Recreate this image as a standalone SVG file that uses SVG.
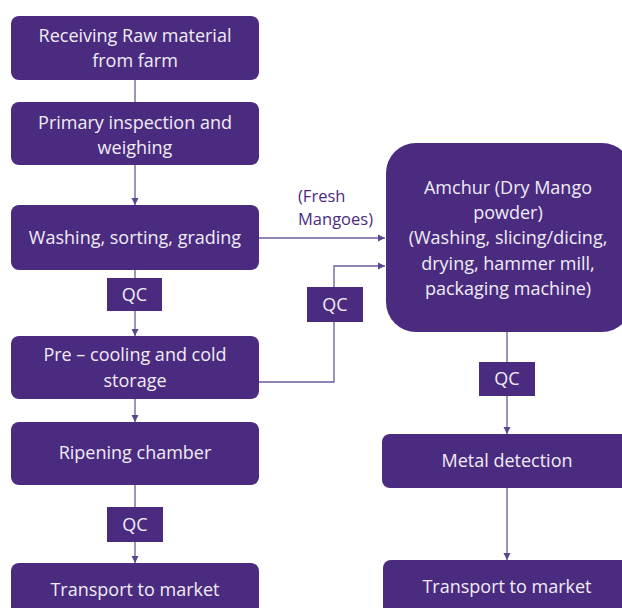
<svg xmlns="http://www.w3.org/2000/svg" width="622" height="608" viewBox="0 0 622 608">
<defs>
<marker id="ah" markerWidth="8" markerHeight="8" refX="7" refY="4" orient="auto" markerUnits="userSpaceOnUse">
<path d="M0,0.5 L7,4 L0,7.5 Z" fill="#5a4690"/>
</marker>
</defs>
<style>
.n{fill:#4b2b7f}
.t{fill:#f0edf6;font-family:"Open Sans",Lato,sans-serif;font-size:18px;text-anchor:middle}
.c{stroke:#6b5a9c;stroke-width:1.3;fill:none}
.lbl{fill:#4b2b7f;font-family:"Open Sans",Lato,sans-serif;font-size:16.5px}
</style>
<rect width="622" height="608" fill="#ffffff"/>
<g id="connectors">
<line class="c" x1="135" y1="80" x2="135" y2="102"/>
<line class="c" x1="135" y1="165" x2="135" y2="205" marker-end="url(#ah)"/>
<line class="c" x1="135" y1="270" x2="135" y2="336" marker-end="url(#ah)"/>
<line class="c" x1="135" y1="399" x2="135" y2="422" marker-end="url(#ah)"/>
<line class="c" x1="135" y1="485" x2="135" y2="563" marker-end="url(#ah)"/>
<line class="c" x1="259" y1="238" x2="385" y2="238" marker-end="url(#ah)"/>
<polyline class="c" points="259,382 334,382 334,266 385,266" marker-end="url(#ah)"/>
<line class="c" x1="507" y1="332" x2="507" y2="434" marker-end="url(#ah)"/>
<line class="c" x1="507" y1="488" x2="507" y2="560" marker-end="url(#ah)"/>
<text class="lbl" x="298" y="202">(Fresh</text>
<text class="lbl" x="298" y="225">Mangoes)</text>
</g>
<g id="n1"><rect class="n" x="11" y="16" width="248" height="64" rx="8"/>
<text class="t" x="135" y="42">Receiving Raw material</text><text class="t" x="135" y="67">from farm</text></g>
<g id="n2"><rect class="n" x="11" y="102" width="248" height="63" rx="8"/>
<text class="t" x="135" y="129">Primary inspection and</text><text class="t" x="135" y="154">weighing</text></g>
<g id="n3"><rect class="n" x="11" y="205" width="248" height="65" rx="8"/>
<text class="t" x="135" y="244">Washing, sorting, grading</text></g>
<g id="qc1"><rect class="n" x="107" y="278" width="55" height="33"/>
<text class="t" x="134.5" y="301">QC</text></g>
<g id="n4"><rect class="n" x="11" y="336" width="248" height="63" rx="8"/>
<text class="t" x="135" y="361">Pre – cooling and cold</text><text class="t" x="135" y="387">storage</text></g>
<g id="n5"><rect class="n" x="11" y="422" width="248" height="63" rx="8"/>
<text class="t" x="135" y="459">Ripening chamber</text></g>
<g id="qc2"><rect class="n" x="107" y="507" width="56" height="35"/>
<text class="t" x="135" y="531">QC</text></g>
<g id="n6"><rect class="n" x="11" y="563" width="248" height="60" rx="8"/>
<text class="t" x="135" y="596">Transport to market</text></g>
<g id="qc3"><rect class="n" x="307" y="287" width="56" height="35"/>
<text class="t" x="335" y="311">QC</text></g>
<g id="n7"><rect class="n" x="386" y="143" width="246" height="189" rx="30"/>
<text class="t" x="508" y="194">Amchur (Dry Mango</text>
<text class="t" x="508" y="219">powder)</text>
<text class="t" x="508" y="244">(Washing, slicing/dicing,</text>
<text class="t" x="508" y="270">drying, hammer mill,</text>
<text class="t" x="508" y="295">packaging machine)</text></g>
<g id="qc4"><rect class="n" x="479" y="362" width="56" height="34"/>
<text class="t" x="507" y="385">QC</text></g>
<g id="n8"><rect class="n" x="382" y="434" width="250" height="54" rx="8"/>
<text class="t" x="507" y="467">Metal detection</text></g>
<g id="n9"><rect class="n" x="383" y="560" width="250" height="60" rx="8"/>
<text class="t" x="507" y="593">Transport to market</text></g>
</svg>
